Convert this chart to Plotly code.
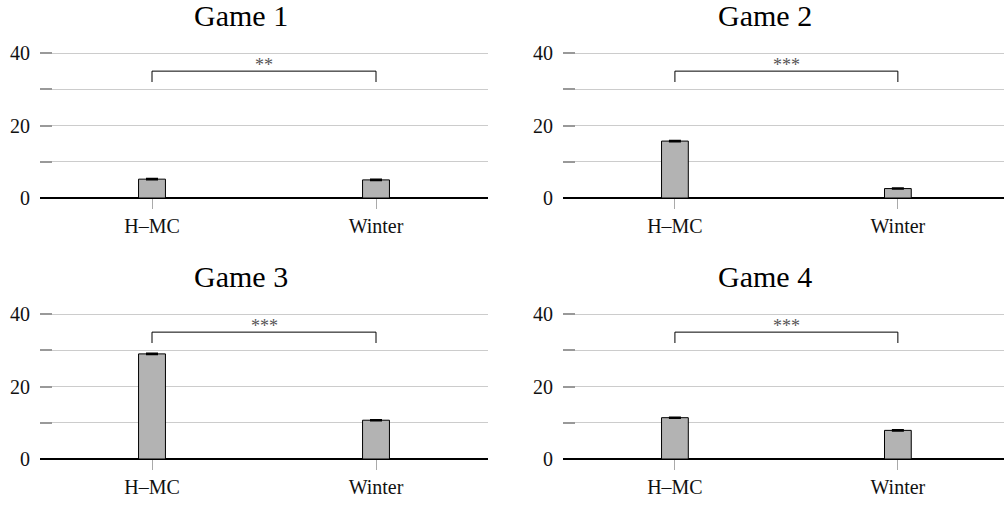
import plotly.graph_objects as go

categories = ["H–MC", "Winter"]
games = ["Game 1", "Game 2", "Game 3", "Game 4"]
values = {
    "Game 1": [5.2, 5.0],
    "Game 2": [15.7, 2.6],
    "Game 3": [29.0, 10.7],
    "Game 4": [11.4, 7.9],
}
errors = {
    "Game 1": [0.15, 0.15],
    "Game 2": [0.15, 0.15],
    "Game 3": [0.15, 0.15],
    "Game 4": [0.15, 0.15],
}
significance = ["**", "***", "***", "***"]
y_ticks = [0, 10, 20, 30, 40]
y_tick_text = ["0", "", "20", "", "40"]

W, H = 1004, 507
FONT = "Liberation Serif, Times New Roman, serif"
YMAX = 40.6

# pixel layout of each panel: (x0, x1, y of 0, xrange)
panels = [
    (40, 488, 198, [-0.5, 1.5]),
    (563, 1004, 198, [-0.502, 1.476]),
    (40, 488, 459, [-0.5, 1.5]),
    (563, 1004, 459, [-0.502, 1.476]),
]
PX_PER_UNIT = 145 / 40
title_pos = [(241, 15.5), (765, 15.5), (241, 276), (765, 276)]

fig = go.Figure()
layout = {}
annotations = []
shapes = []
for i, g in enumerate(games):
    n = "" if i == 0 else str(i + 1)
    x0, x1, yb, xr = panels[i]
    yt = yb - YMAX * PX_PER_UNIT
    fig.add_trace(go.Bar(
        x=categories, y=values[g], width=0.12,
        marker=dict(color="#b3b3b3", line=dict(color="black", width=1)),
        error_y=dict(type="data", array=errors[g], color="black", thickness=1.5, width=6),
        xaxis="x" + n, yaxis="y" + n, showlegend=False,
    ))
    layout["xaxis" + n] = dict(
        domain=[x0 / W, x1 / W], range=xr, anchor="y" + n,
        type="category", showgrid=False, zeroline=False, showline=False,
        ticks="outside", ticklen=10, tickcolor="#aaaaaa", tickwidth=1,
        tickfont=dict(family=FONT, size=20, color="#111111"),
        automargin=False,
    )
    layout["yaxis" + n] = dict(
        domain=[(H - yb) / H, (H - yt) / H], range=[0, YMAX], anchor="x" + n,
        tickvals=y_ticks, ticktext=y_tick_text,
        showgrid=True, gridcolor="#cccccc", gridwidth=1,
        zeroline=True, zerolinecolor="black", zerolinewidth=1.5,
        ticks="inside", ticklen=12, tickcolor="#999999", tickwidth=1.5,
        ticklabelstandoff=9,
        tickfont=dict(family=FONT, size=20, color="#111111"),
        showline=False, automargin=False,
    )
    xref = "x" + n
    yref = "y" + n
    shapes.append(dict(
        type="path", xref=xref, yref=yref,
        path="M 0,32 L 0,35 L 1,35 L 1,32",
        line=dict(color="black", width=1),
    ))
    annotations.append(dict(
        x=0.5, y=35, xref=xref, yref=yref, text=significance[i],
        showarrow=False, yanchor="bottom", yshift=-6,
        font=dict(family=FONT, size=18, color="#555555"),
    ))
    tx, ty = title_pos[i]
    annotations.append(dict(
        x=tx / W, y=(H - ty) / H, xref="paper", yref="paper", text=g,
        showarrow=False, xanchor="center", yanchor="middle",
        font=dict(family=FONT, size=30, color="black"),
    ))

fig.update_layout(
    width=W, height=H,
    margin=dict(l=0, r=0, t=0, b=0),
    paper_bgcolor="white", plot_bgcolor="white",
    annotations=annotations, shapes=shapes,
    bargap=0.5,
    **layout,
)
fig.write_html("out.html")
